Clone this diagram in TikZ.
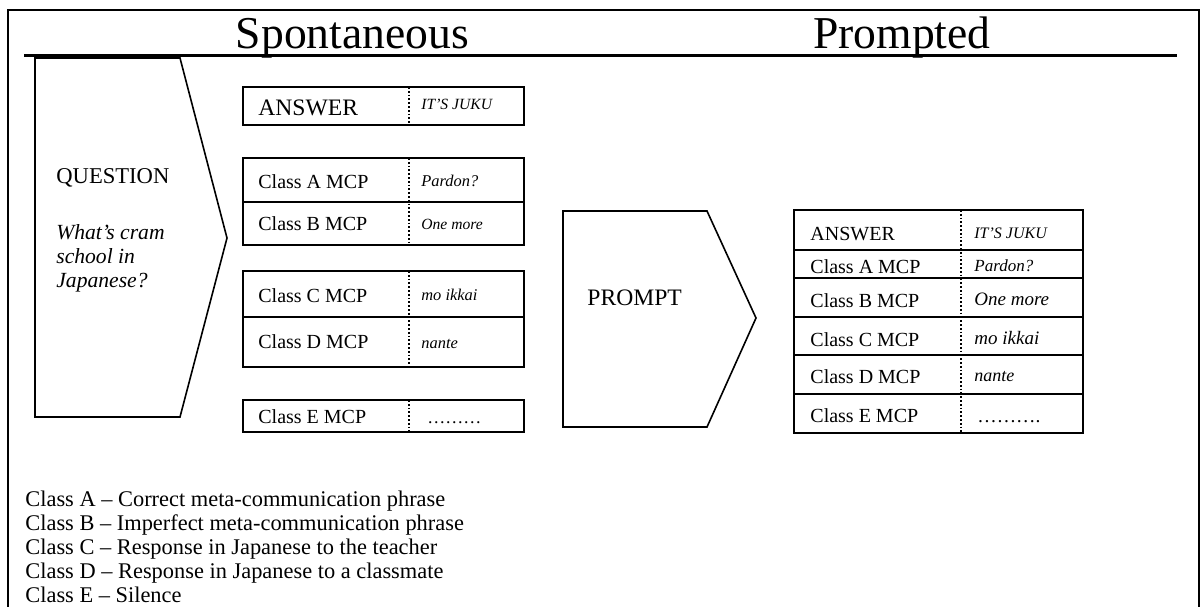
\documentclass[tikz,border=0pt]{standalone}
\usepackage{fontspec}
\setmainfont{Liberation Serif}

\tikzset{
  heading/.style={font=\fontsize{22.8}{27}\selectfont, inner sep=0pt},
  plain/.style={font=\fontsize{10}{12}\selectfont, inner sep=0pt},
  keytext/.style={font=\fontsize{11.2}{13}\selectfont, inner sep=0pt, anchor=base west},
  example/.style={font=\itshape\fontsize{8.2}{10}\selectfont, inner sep=0pt},
  cellline/.style={line width=1.2pt},
  divider/.style={line width=0.9pt, densely dotted},
  pointer/.style={line width=0.8pt, line join=miter}
}

\begin{document}
\begin{tikzpicture}[x=0.5pt, y=-0.5pt]
\useasboundingbox (0,0) rectangle (1203,606);

% frame
\draw[line width=1pt] (8,620) -- (8,9.5) -- (1199,9.5) -- (1199,620);

% headings
\node[heading, anchor=base] (spont) at (352.5,48) {Spontaneous};
\node[heading, anchor=base] (prompted) at (902,48) {Prompted};
\draw[line width=1.5pt] (24,55.5) -- (1177,55.5);

% question
\draw[pointer] (35,58) -- (180,58) -- (227,238) -- (180,417) -- (35,417) -- cycle;
\node[plain, font=\fontsize{11.3}{13}\selectfont, anchor=base west] (question) at (56,183) {QUESTION};
\node[plain, font=\itshape\fontsize{10.8}{12}\selectfont, anchor=base west] (q1) at (56,239) {What’s cram};
\node[plain, font=\itshape\fontsize{10.8}{12}\selectfont, anchor=base west] (q2) at (56,263) {school in};
\node[plain, font=\itshape\fontsize{10.8}{12}\selectfont, anchor=base west] (q3) at (56,287) {Japanese?};

% spontaneous answers
\draw[cellline] (243,87) rectangle (524,125);
\draw[cellline] (243,158) rectangle (524,245);
\draw[cellline] (243,202) -- (524,202);
\draw[cellline] (243,271) rectangle (524,367);
\draw[cellline] (243,317) -- (524,317);
\draw[cellline] (243,400) rectangle (524,432);
\foreach \top/\bot in {87/125, 158/245, 271/367, 400/432}
  \draw[divider] (409,\top) -- (409,\bot);

\node[plain, font=\fontsize{11.8}{14}\selectfont, anchor=base west] (sans) at (258,115) {ANSWER};
\node[example, font=\itshape\fontsize{7.8}{9}\selectfont, anchor=base west] (sjuku) at (421,109) {IT’S JUKU};
\node[plain, anchor=base west] (sa) at (258,188) {Class A MCP};
\node[example, anchor=base west] (sa2) at (421,186) {Pardon?};
\node[plain, anchor=base west] (sb) at (258,230) {Class B MCP};
\node[example, font=\itshape\fontsize{7.8}{9}\selectfont, anchor=base west] (sb2) at (421,229) {One more};
\node[plain, anchor=base west] (sc) at (258,302) {Class C MCP};
\node[example, anchor=base west] (sc2) at (421,300) {mo ikkai};
\node[plain, anchor=base west] (sd) at (258,348) {Class D MCP};
\node[example, anchor=base west] (sd2) at (421,348) {nante};
\node[plain, anchor=base west] (se) at (258,423) {Class E MCP};
\node[plain, font=\fontsize{9}{11}\selectfont, anchor=base west] (se2) at (427,423) {………};

% prompt
\draw[pointer] (563,211) -- (707,211) -- (756,318) -- (707,427) -- (563,427) -- cycle;
\node[plain, font=\fontsize{11.8}{14}\selectfont, anchor=base west] (prompt) at (587,305) {PROMPT};

% prompted answers
\draw[cellline] (794,210) rectangle (1083,433);
\foreach \y in {250,278,317,355,394}
  \draw[cellline] (794,\y) -- (1083,\y);
\draw[divider] (961,210) -- (961,433);

\foreach \y/\cls/\sz/\ex [count=\i] in {240/ANSWER/8/IT’S JUKU, 273/Class A MCP/8.5/Pardon?,
    307/Class B MCP/9.5/One more, 346/Class C MCP/9.5/mo ikkai, 383/Class D MCP/9/nante}
{
  \node[plain, anchor=base west] (pc\i) at (810,\y) {\cls};
  \node[example, font=\itshape\fontsize{\sz}{11}\selectfont, anchor=base west] (pe\i) at (974,\y-2) {\ex};
}
\node[plain, anchor=base west] (pc6) at (810,422) {Class E MCP};
\node[plain, font=\fontsize{9.7}{11}\selectfont, anchor=base west] (pe6) at (977,422) {……….};

% legend
\node[keytext] (keya) at (25,506) {Class A – Correct meta-communication phrase};
\node[keytext] (keyb) at (25,530) {Class B – Imperfect meta-communication phrase};
\node[keytext] (keyc) at (25,554) {Class C – Response in Japanese to the teacher};
\node[keytext] (keyd) at (25,578) {Class D – Response in Japanese to a classmate};
\node[keytext] (keye) at (25,602) {Class E – Silence};
\end{tikzpicture}
\end{document}
